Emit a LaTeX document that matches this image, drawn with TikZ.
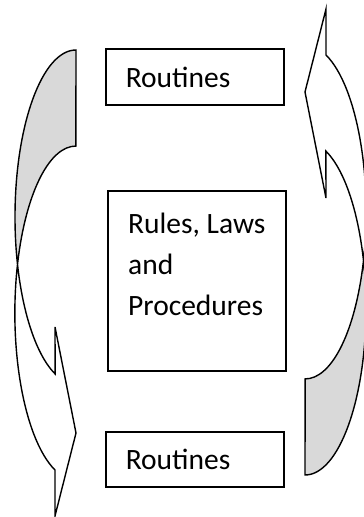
\documentclass[tikz,border=0pt]{standalone}
\usepackage{fontspec}
\setmainfont{Carlito}
\usetikzlibrary{calc}
\definecolor{shadegray}{RGB}{217,217,217}
% One curved arrow: back band (shaded) on top, front band sweeping down to a right-pointing head
\newcommand\curvedband{%
  \fill[shadegray] (76,467) arc[start angle=90, end angle=196.7, x radius=61, y radius=167]
                            arc[start angle=163.3, end angle=90, x radius=61, y radius=167] -- cycle;
  \draw[band] (76,467) arc[start angle=90, end angle=250, x radius=61, y radius=167]
              -- (55,190) -- (76,84) -- (55,1) -- (55,47)
              arc[start angle=250, end angle=90, x radius=61, y radius=167] -- cycle;
}
\begin{document}
\begin{tikzpicture}[x=1pt, y=1pt,
  txt/.style={font=\fontsize{29.5}{41}\selectfont},
  box/.style={draw, line width=1.5pt, anchor=south west, inner xsep=20pt, inner ysep=0pt,
              text width=138pt, align=left, minimum width=178pt, txt},
  band/.style={draw, line width=1.4pt, line join=miter}]
\useasboundingbox (0,0) rectangle (364,517);

% left arrow, pointing towards the lower box
\begin{scope}
  \curvedband
\end{scope}
% right arrow, the same shape turned half a turn
\begin{scope}[rotate around={180:(190.5,254.5)}]
  \curvedband
\end{scope}

\node[box, minimum height=56pt] (top) at (105,411) {Routines};
\node[box, minimum height=180pt] (mid) at (107,145) {};
% the base anchor of a multi-line node sits on its last line
\node[txt, anchor=base west, align=left, inner sep=0pt] (midtext)
  at ($(mid.north west)+(21,-125)$) {Rules, Laws\\and\\Procedures};
\node[box, minimum height=55pt] (bot) at (105,29) {Routines};
\end{tikzpicture}
\end{document}
